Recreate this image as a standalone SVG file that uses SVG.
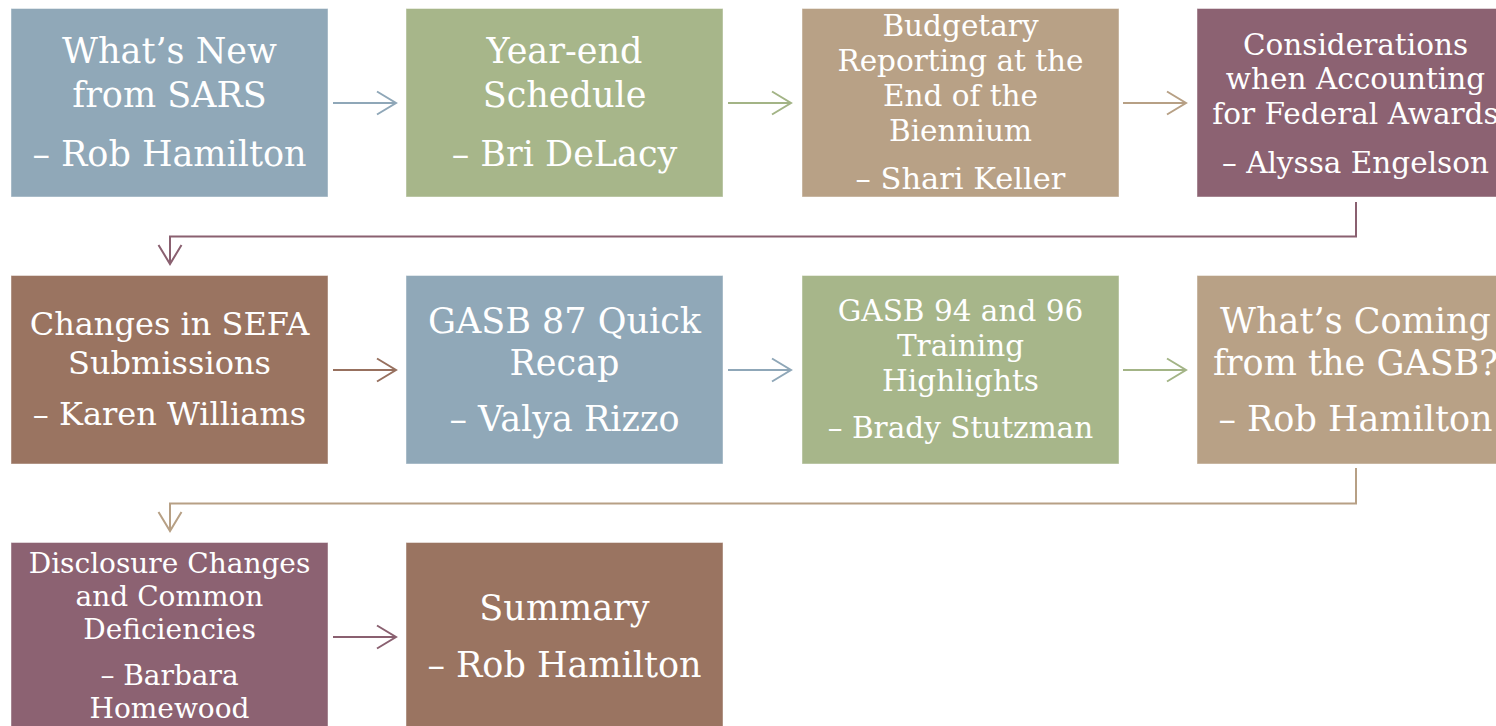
<svg xmlns="http://www.w3.org/2000/svg" width="1496" height="726" viewBox="0 0 1496 726">
<style>
.box{stroke:#ffffff;stroke-opacity:0.45;stroke-width:1}
.blue{fill:#90a8b8}.green{fill:#a7b68a}.tan{fill:#b8a186}.mauve{fill:#8c6272}.brown{fill:#9a7461}
text{font-family:"DejaVu Serif","Liberation Serif",serif;fill:#ffffff;text-anchor:middle}
.f35{font-size:35px}.f32{font-size:32px}.f29{font-size:29.5px}.f28{font-size:28px}
.c{fill:none;stroke-width:2}
.cblue{stroke:#8fa7b8}.cgreen{stroke:#a3b486}.ctan{stroke:#b7a085}.cmauve{stroke:#8a6070}.cbrown{stroke:#97705e}
</style>
<defs>
<marker id="ablue" markerUnits="userSpaceOnUse" viewBox="-22 -14 26 28" markerWidth="26" markerHeight="28" refX="0" refY="0" orient="auto" overflow="visible"><path d="M-19,-11.5 L0,0 L-19,11.5" fill="none" stroke="#8fa7b8" stroke-width="2"/></marker>
<marker id="agreen" markerUnits="userSpaceOnUse" viewBox="-22 -14 26 28" markerWidth="26" markerHeight="28" refX="0" refY="0" orient="auto" overflow="visible"><path d="M-19,-11.5 L0,0 L-19,11.5" fill="none" stroke="#a3b486" stroke-width="2"/></marker>
<marker id="atan" markerUnits="userSpaceOnUse" viewBox="-22 -14 26 28" markerWidth="26" markerHeight="28" refX="0" refY="0" orient="auto" overflow="visible"><path d="M-19,-11.5 L0,0 L-19,11.5" fill="none" stroke="#b7a085" stroke-width="2"/></marker>
<marker id="amauve" markerUnits="userSpaceOnUse" viewBox="-22 -14 26 28" markerWidth="26" markerHeight="28" refX="0" refY="0" orient="auto" overflow="visible"><path d="M-19,-11.5 L0,0 L-19,11.5" fill="none" stroke="#8a6070" stroke-width="2"/></marker>
<marker id="abrown" markerUnits="userSpaceOnUse" viewBox="-22 -14 26 28" markerWidth="26" markerHeight="28" refX="0" refY="0" orient="auto" overflow="visible"><path d="M-19,-11.5 L0,0 L-19,11.5" fill="none" stroke="#97705e" stroke-width="2"/></marker>
</defs>
<rect width="1496" height="726" fill="#ffffff"/>

<g id="connectors">
<path class="c cblue" d="M333,103 H396" marker-end="url(#ablue)"/>
<path class="c cgreen" d="M728,103 H791" marker-end="url(#agreen)"/>
<path class="c ctan" d="M1123,103 H1186" marker-end="url(#atan)"/>
<path class="c cmauve" d="M1356,202 V236.5 H170 V264" marker-end="url(#amauve)"/>
<path class="c cbrown" d="M333,370 H396" marker-end="url(#abrown)"/>
<path class="c cblue" d="M728,370 H791" marker-end="url(#ablue)"/>
<path class="c cgreen" d="M1123,370 H1186" marker-end="url(#agreen)"/>
<path class="c ctan" d="M1356,468 V503.5 H170 V531" marker-end="url(#atan)"/>
<path class="c cmauve" d="M333,637 H396" marker-end="url(#amauve)"/>
</g>

<g id="node1">
<rect class="box blue" x="11" y="8.5" width="317" height="188.5"/>
<text class="f35" x="169.5" y="63">What’s New</text>
<text class="f35" x="169.5" y="107">from SARS</text>
<text class="f35" x="169.5" y="166">– Rob Hamilton</text>
</g>
<g id="node2">
<rect class="box green" x="406" y="8.5" width="317" height="188.5"/>
<text class="f35" x="564.5" y="63">Year-end</text>
<text class="f35" x="564.5" y="107">Schedule</text>
<text class="f35" x="564.5" y="166">– Bri DeLacy</text>
</g>
<g id="node3">
<rect class="box tan" x="802" y="8.5" width="317" height="188.5"/>
<text class="f29" x="960.5" y="36">Budgetary</text>
<text class="f29" x="960.5" y="71">Reporting at the</text>
<text class="f29" x="960.5" y="106">End of the</text>
<text class="f29" x="960.5" y="141">Biennium</text>
<text class="f29" x="960.5" y="189" style="font-size:30.5px">– Shari Keller</text>
</g>
<g id="node4">
<rect class="box mauve" x="1197" y="8.5" width="317" height="188.5"/>
<text class="f29" x="1355.5" y="54.5">Considerations</text>
<text class="f29" x="1355.5" y="89">when Accounting</text>
<text class="f29" x="1355.5" y="124">for Federal Awards</text>
<text class="f29" x="1355.5" y="173">– Alyssa Engelson</text>
</g>

<g id="node5">
<rect class="box brown" x="11" y="275.5" width="317" height="188.5"/>
<text class="f32" x="169.5" y="335">Changes in SEFA</text>
<text class="f32" x="169.5" y="374">Submissions</text>
<text class="f32" x="169.5" y="425">– Karen Williams</text>
</g>
<g id="node6">
<rect class="box blue" x="406" y="275.5" width="317" height="188.5"/>
<text class="f35" x="564.5" y="333">GASB 87 Quick</text>
<text class="f35" x="564.5" y="375">Recap</text>
<text class="f35" x="564.5" y="431">– Valya Rizzo</text>
</g>
<g id="node7">
<rect class="box green" x="802" y="275.5" width="317" height="188.5"/>
<text class="f29" x="960.5" y="321">GASB 94 and 96</text>
<text class="f29" x="960.5" y="356">Training</text>
<text class="f29" x="960.5" y="391">Highlights</text>
<text class="f29" x="960.5" y="438">– Brady Stutzman</text>
</g>
<g id="node8">
<rect class="box tan" x="1197" y="275.5" width="317" height="188.5"/>
<text class="f35" x="1355.5" y="333">What’s Coming</text>
<text class="f35" x="1355.5" y="375">from the GASB?</text>
<text class="f35" x="1355.5" y="431">– Rob Hamilton</text>
</g>

<g id="node9">
<rect class="box mauve" x="11" y="542.5" width="317" height="188.5"/>
<text class="f28" x="169.5" y="573">Disclosure Changes</text>
<text class="f28" x="169.5" y="606">and Common</text>
<text class="f28" x="169.5" y="639">Deficiencies</text>
<text class="f28" x="169.5" y="685">– Barbara</text>
<text class="f28" x="169.5" y="718">Homewood</text>
</g>
<g id="node10">
<rect class="box brown" x="406" y="542.5" width="317" height="188.5"/>
<text class="f35" x="564.5" y="620">Summary</text>
<text class="f35" x="564.5" y="677">– Rob Hamilton</text>
</g>
</svg>
